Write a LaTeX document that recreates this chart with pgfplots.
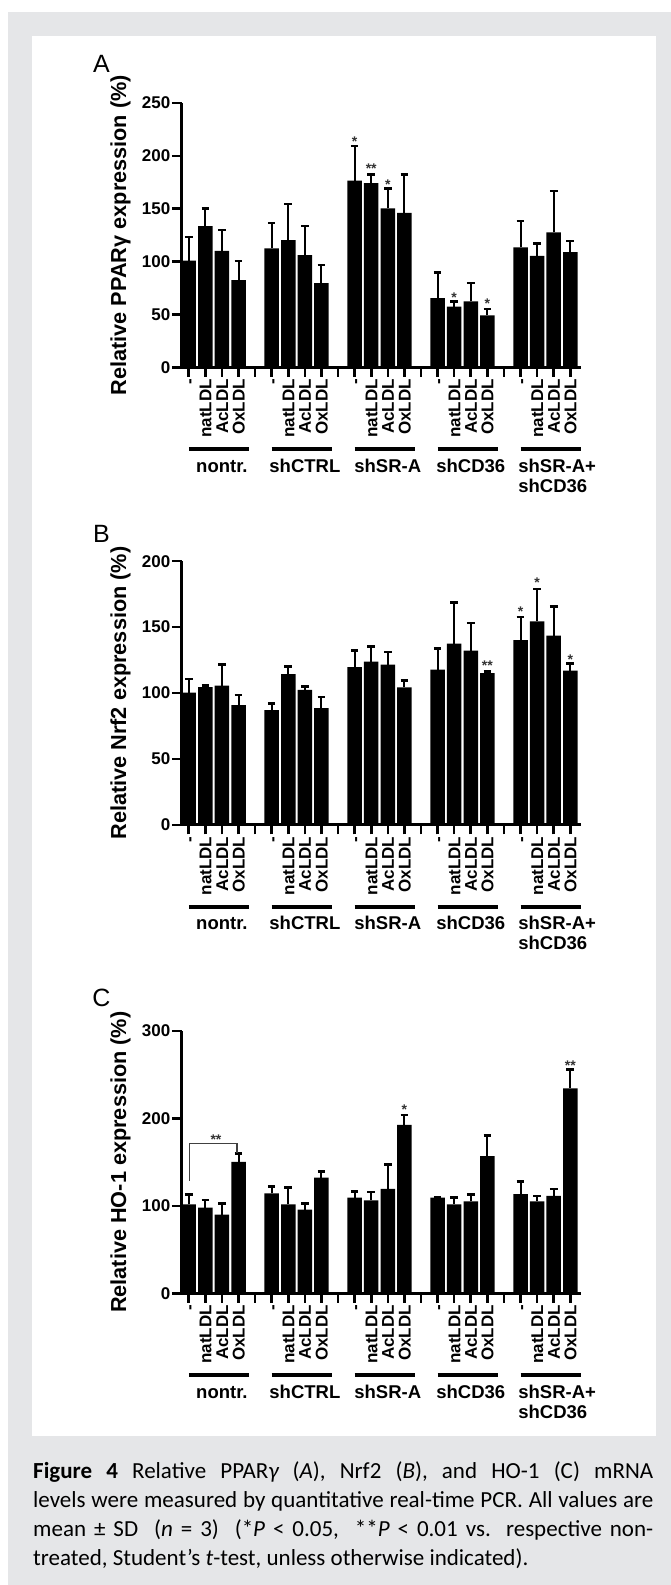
\documentclass[border=0pt]{standalone}
\usepackage{pgfplots}
\pgfplotsset{compat=1.18}
\usepackage{pgfplotstable}
\usepackage{fontspec}
\setmainfont{Liberation Sans}
\newfontfamily\capfont{Carlito}
\definecolor{bggray}{HTML}{E5E6E8}

\pgfplotstableread{
p y e
0 100.8 22.6
1 133.5 16.7
2 110.2 19.5
3 82.5 17.9
5 112.4 24.2
6 120.3 34.0
7 106.1 27.4
8 79.7 17.0
10 176.6 32.8
11 174.1 8.5
12 150.2 18.9
13 146.1 36.5
15 65.5 24.2
16 57.3 5.0
17 62.3 17.4
18 49.1 6.0
20 113.4 25.1
21 105.5 11.6
22 127.5 39.4
23 108.9 10.7
}\dataA

\pgfplotstableread{
p y e
0 100.3 10.3
1 104.6 1.0
2 105.6 16.2
3 90.9 7.6
5 87.1 4.8
6 114.4 5.9
7 102.5 2.6
8 88.6 8.4
10 119.7 12.7
11 123.8 11.6
12 121.5 9.6
13 104.3 5.3
15 117.7 16.2
16 137.5 31.4
17 132.2 21.0
18 115.2 1.3
20 140.1 17.5
21 154.4 24.6
22 143.5 22.1
23 117.0 5.3
}\dataB

\pgfplotstableread{
p y e
0 101.9 11.5
1 98.1 8.8
2 90.1 12.6
3 150.4 9.5
5 114.5 7.6
6 101.9 19.1
7 95.8 7.2
8 132.4 6.9
10 109.5 7.3
11 106.5 9.5
12 119.5 27.8
13 192.7 11.1
15 109.5 0.6
16 101.9 8.0
17 105.3 7.7
18 156.9 24.0
20 113.7 14.2
21 105.3 6.2
22 111.5 8.0
23 234.4 21.3
}\dataC

\pgfplotsset{
 panel/.style={
  scale only axis, width=399.4pt, anchor=south west,
  xmin=-0.437, xmax=23.64, ymin=0,
  axis x line*=bottom, axis y line*=left,
  axis line style={line width=3pt, black},
  tick align=outside, major tick length=9.5pt,
  tick style={line width=2.6pt, black},
  minor tick num=0,
  xtick={0,...,23},
  xticklabels={-,natLDL,AcLDL,OxLDL,{},-,natLDL,AcLDL,OxLDL,{},-,natLDL,AcLDL,OxLDL,{},-,natLDL,AcLDL,OxLDL,{},-,natLDL,AcLDL,OxLDL},
  x tick label style={rotate=90, anchor=east, font=\fontsize{17}{17}\selectfont\bfseries, inner sep=2pt, text height=12.2pt, text depth=0pt},
  y tick label style={font=\fontsize{17}{17}\selectfont\bfseries, inner sep=1.5pt},
  /pgf/number format/assume math mode=true,
  clip=false,
  enlargelimits=false,
 },
 bars/.style={ybar, bar width=0.874, fill=black, draw=none,
  error bars/.cd, y dir=plus, y explicit,
  error bar style={line width=2pt, black},
  error mark options={rotate=90, line width=2.6pt, mark size=3.8pt, black}},
}
\tikzset{
 star/.style={anchor=base, font=\fontsize{14}{14}\selectfont\bfseries, text=black!80, inner sep=0pt},
 gname/.style={anchor=base, font=\fontsize{18.5}{18.5}\selectfont\bfseries, inner sep=0pt},
 ylab/.style={rotate=90, font=\fontsize{21.7}{21.7}\selectfont\bfseries, inner sep=0pt},
}

\newcommand\groupdeco{%
 \draw[line width=4pt] ([yshift=-82pt]axis cs:0,0) -- ([yshift=-82pt]axis cs:3.65,0);
 \draw[line width=4pt] ([yshift=-82pt]axis cs:5,0) -- ([yshift=-82pt]axis cs:8.65,0);
 \draw[line width=4pt] ([yshift=-82pt]axis cs:10,0) -- ([yshift=-82pt]axis cs:13.65,0);
 \draw[line width=4pt] ([yshift=-82pt]axis cs:15,0) -- ([yshift=-82pt]axis cs:18.65,0);
 \draw[line width=4pt] ([yshift=-82pt]axis cs:20,0) -- ([yshift=-82pt]axis cs:23.65,0);
 \node[gname] at ([yshift=-105pt]axis cs:2,0) {nontr.};
 \node[gname] at ([yshift=-105pt]axis cs:7,0) {shCTRL};
 \node[gname] at ([yshift=-105pt]axis cs:12,0) {shSR-A};
 \node[gname] at ([yshift=-105pt]axis cs:17,0) {shCD36};
 \node[gname, anchor=base west] at ([yshift=-105pt]axis cs:19.86,0) {shSR-A+};
 \node[gname, anchor=base west] at ([yshift=-125pt]axis cs:19.86,0) {shCD36};
}

\begin{document}
\begin{tikzpicture}[x=1pt,y=1pt]
\fill[white] (0,0) rectangle (671,1585);
\fill[bggray] (8,0) rectangle (671,1573);
\fill[white] (32,149) rectangle (656,1549);

\node[font=\fontsize{25}{25}\selectfont] at (101.5,1521) {A};
\node[font=\fontsize{25}{25}\selectfont] at (101.5,1051) {B};
\node[font=\fontsize{25}{25}\selectfont] at (101.5,587) {C};

% Panel A
\begin{axis}[panel, at={(181.5pt,1217.7pt)}, height=264.3pt, ymax=250, ytick={0,50,...,250}]
\addplot[bars] table[x=p, y=y, y error=e] {\dataA};
\node[ylab] at ([xshift=-61pt]axis description cs:0,0.5) {Relative PPARγ expression (\%)};
\groupdeco
\node[star] at ([yshift=-8pt]axis cs:10,216.3) {*};
\node[star] at ([yshift=-8pt]axis cs:11,191.1) {**};
\node[star] at ([yshift=-8pt]axis cs:12,176.0) {*};
\node[star] at ([yshift=-8pt]axis cs:16,69.3) {*};
\node[star] at ([yshift=-8pt]axis cs:18,63.6) {*};
\end{axis}

% Panel B
\begin{axis}[panel, at={(181.5pt,760pt)}, height=263.8pt, ymax=200, ytick={0,50,...,200}]
\addplot[bars] table[x=p, y=y, y error=e] {\dataB};
\node[ylab] at ([xshift=-61pt]axis description cs:0,0.5) {Relative Nrf2 expression (\%)};
\groupdeco
\node[star] at ([yshift=-8pt]axis cs:18,123.3) {**};
\node[star] at ([yshift=-8pt]axis cs:20,164.0) {*};
\node[star] at ([yshift=-8pt]axis cs:21,186.0) {*};
\node[star] at ([yshift=-8pt]axis cs:23,127.8) {*};
\end{axis}

% Panel C
\begin{axis}[panel, at={(181.5pt,291.5pt)}, height=262.5pt, ymax=300, ytick={0,100,200,300}]
\addplot[bars] table[x=p, y=y, y error=e] {\dataC};
\node[ylab] at ([xshift=-61pt]axis description cs:0,0.5) {Relative HO-1 expression (\%)};
\groupdeco
\draw[line width=1.3pt, black!75] (axis cs:0.05,128.6) -- (axis cs:0.05,171.8) -- (axis cs:2.9,171.8) -- (axis cs:2.9,160);
\node[star] at ([yshift=-8pt]axis cs:1.64,179.4) {**};
\node[star] at ([yshift=-8pt]axis cs:13,213.7) {*};
\node[star] at ([yshift=-8pt]axis cs:23,264.1) {**};
\end{axis}

\node[anchor=base west, inner sep=0pt] at (33,106) {\parbox[t]{620pt}{\capfont\fontsize{23}{28.7}\selectfont
{\bfseries Figure 4} Relative PPAR{\itshape γ} ({\itshape A}), Nrf2 ({\itshape B}), and HO-1 (C) mRNA\linebreak
levels were measured by quantitative real-time PCR. All values are\linebreak
mean ± SD\ \ ({\itshape n} = 3)\ \ (*{\itshape P} < 0.05,\ \ **{\itshape P} < 0.01 vs. respective non-\linebreak
treated, Student’s {\itshape t}-test, unless otherwise indicated).}};
\end{tikzpicture}
\end{document}
